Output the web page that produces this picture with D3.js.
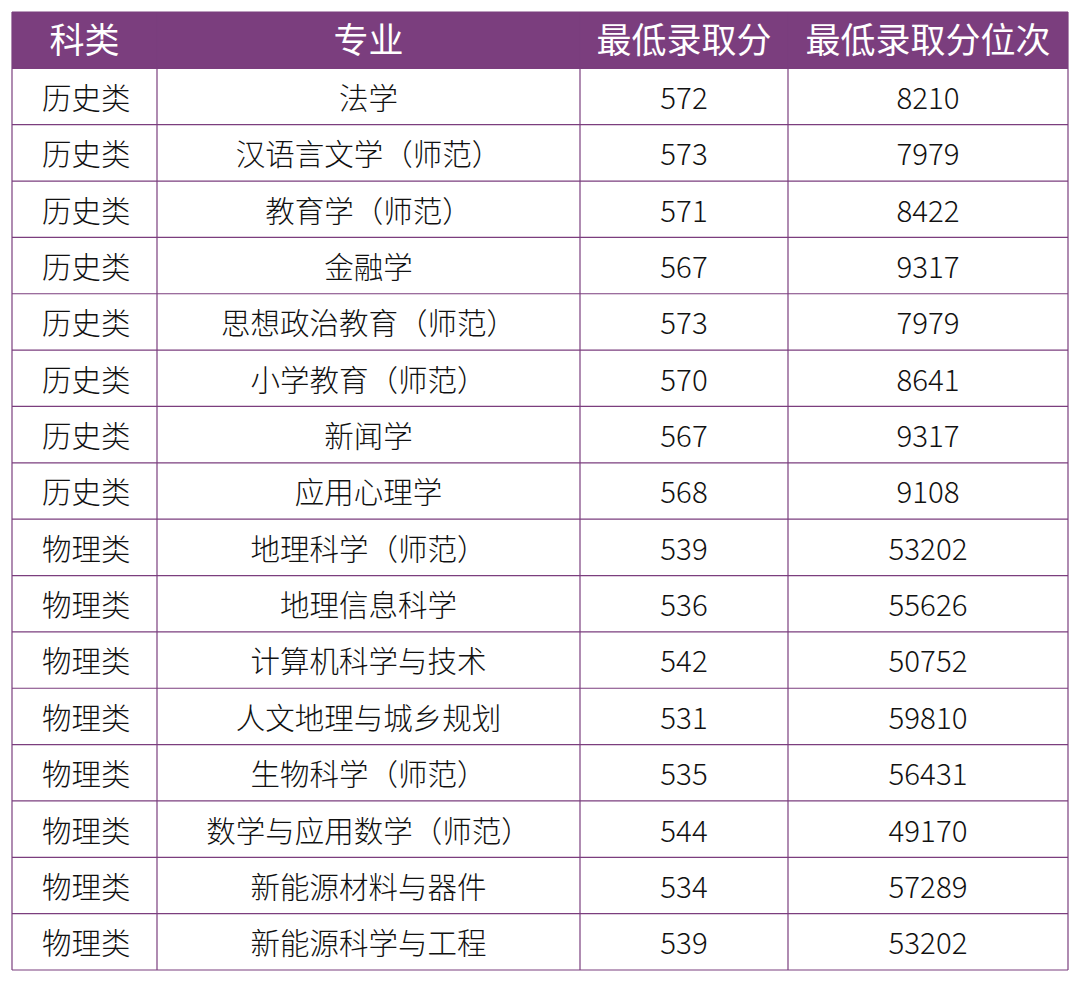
<!DOCTYPE html><html><head><meta charset="utf-8"><script src="https://cdn.jsdelivr.net/npm/d3@7"></script>
<style>body{margin:0;background:#fff}</style></head><body><svg id="c" width="1080" height="983"></svg>
<script>
const headers=["科类","专业","最低录取分","最低录取分位次"];
const categories=["历史类","历史类","历史类","历史类","历史类","历史类","历史类","历史类","物理类","物理类","物理类","物理类","物理类","物理类","物理类","物理类"];
const majors=["法学","汉语言文学（师范）","教育学（师范）","金融学","思想政治教育（师范）","小学教育（师范）","新闻学","应用心理学","地理科学（师范）","地理信息科学","计算机科学与技术","人文地理与城乡规划","生物科学（师范）","数学与应用数学（师范）","新能源材料与器件","新能源科学与工程"];
const scores=[572,573,571,567,573,570,567,568,539,536,542,531,535,544,534,539];
const ranks=[8210,7979,8422,9317,7979,8641,9317,9108,53202,55626,50752,59810,56431,49170,57289,53202];
const rows=categories.map((c,i)=>[c,majors[i],scores[i],ranks[i]]);
const svg=d3.select("#c");
const colEdges=[12,157,580,788,1068];
const y=d3.scaleLinear().domain([0,17]).range([12,970]);
const font="'Noto Sans CJK SC','Noto Sans',sans-serif";
const purple="#7b3e7e";
svg.append("rect").attr("x",12).attr("y",y(0)).attr("width",1056).attr("height",y(1)-y(0)).attr("fill",purple);
headers.forEach((h,j)=>svg.append("text").attr("x",(colEdges[j]+colEdges[j+1])/2).attr("y",(y(0)+y(1))/2).attr("dy","0.38em").attr("text-anchor","middle").attr("font-family",font).attr("font-size",35).attr("fill","#fff").text(h));
rows.forEach((r,i)=>r.forEach((v,j)=>svg.append("text").attr("x",j==0?colEdges[0]+30:(colEdges[j]+colEdges[j+1])/2).attr("y",(y(i+1)+y(i+2))/2).attr("dy","0.42em").attr("text-anchor",j==0?"start":"middle").attr("font-family",font).attr("font-size",29.5).attr("font-weight",300).attr("fill","#111").text(v)));
for(let i=0;i<=17;i++)svg.append("line").attr("x1",12).attr("x2",1068).attr("y1",y(i)).attr("y2",y(i)).attr("stroke",purple).attr("stroke-width",1.2);
colEdges.forEach(x=>svg.append("line").attr("x1",x).attr("x2",x).attr("y1",y(0)).attr("y2",y(17)).attr("stroke",purple).attr("stroke-width",1.2));
</script></body></html>
